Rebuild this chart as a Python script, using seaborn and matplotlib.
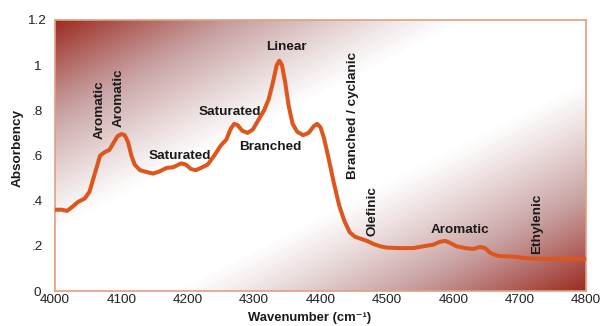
import numpy as np
import pandas as pd
import matplotlib
matplotlib.use("Agg")
import matplotlib.pyplot as plt
from matplotlib.colors import LinearSegmentedColormap
import seaborn as sns

wavenumber = [4000, 4010, 4018, 4025, 4035, 4045, 4052, 4060, 4068, 4075, 4082, 4088,
              4094, 4100, 4105, 4110, 4115, 4120, 4128, 4138, 4148, 4158, 4168, 4178,
              4190, 4197, 4205, 4212, 4220, 4230, 4240, 4250, 4258, 4265, 4270, 4275,
              4282, 4290, 4298, 4305, 4315, 4322, 4328, 4334, 4338, 4342, 4347, 4352,
              4358, 4365, 4374, 4382, 4390, 4395, 4400, 4405, 4412, 4420, 4428, 4436,
              4444, 4452, 4462, 4470, 4480, 4490, 4500, 4520, 4540, 4555, 4570, 4580,
              4588, 4596, 4605, 4618, 4630, 4640, 4648, 4656, 4668, 4690, 4712, 4740, 4800]
absorbency = [0.36, 0.36, 0.355, 0.37, 0.395, 0.41, 0.44, 0.52, 0.60, 0.615, 0.625, 0.655,
              0.685, 0.695, 0.69, 0.66, 0.60, 0.56, 0.535, 0.527, 0.52, 0.53, 0.545, 0.548,
              0.565, 0.56, 0.54, 0.535, 0.545, 0.56, 0.60, 0.645, 0.67, 0.72, 0.74, 0.735,
              0.71, 0.70, 0.715, 0.75, 0.80, 0.85, 0.92, 1.0, 1.02, 1.0, 0.92, 0.82,
              0.74, 0.705, 0.69, 0.70, 0.73, 0.74, 0.725, 0.68, 0.59, 0.48, 0.38, 0.31,
              0.26, 0.24, 0.23, 0.222, 0.208, 0.198, 0.192, 0.19, 0.19, 0.198, 0.205, 0.218,
              0.222, 0.212, 0.198, 0.19, 0.186, 0.195, 0.19, 0.168, 0.155, 0.152, 0.145, 0.142, 0.142]

x_ticks = [4000, 4100, 4200, 4300, 4400, 4500, 4600, 4700, 4800]
y_ticks = [0, 0.2, 0.4, 0.6, 0.8, 1.0, 1.2]
y_tick_labels = ["0", ".2", ".4", ".6", ".8", "1", "1.2"]

labels = ["Aromatic", "Aromatic", "Saturated", "Saturated", "Branched", "Linear",
          "Branched / cyclanic", "Olefinic", "Aromatic", "Ethylenic"]
label_rotation = [90, 90, 0, 0, 0, 0, 90, 90, 0, 90]
label_pos = [(4068, 0.804), (4096, 0.857), (4188, 0.596), (4264, 0.791), (4324, 0.636),
             (4348, 1.08), (4449, 0.778), (4478, 0.356), (4610, 0.271), (4726, 0.298)]

sns.set_style("white")
plt.rcParams['font.family'] = ['Liberation Sans', 'DejaVu Sans']

fig = plt.figure(figsize=(6.06, 3.26), dpi=100)
ax = fig.add_axes([55/606, 1-291/326, 531/606, 271/326])

# background gradient
u = np.linspace(0, 1, 400)
v = np.linspace(0, 1, 300)
U, V = np.meshgrid(u, v)
d = np.abs(V - U)
t = np.clip((d - 0.22) / 0.78, 0, 1) ** 1.15
cmap = LinearSegmentedColormap.from_list("bg", ["#ffffff", "#c9a3a3", "#9c2c22"])
ax.imshow(t, cmap=cmap, origin="lower", extent=[0, 1, 0, 1], transform=ax.transAxes,
          aspect="auto", zorder=0, vmin=0, vmax=1)

df = pd.DataFrame({"Wavenumber": wavenumber, "Absorbency": absorbency})
sns.lineplot(data=df, x="Wavenumber", y="Absorbency", ax=ax, color="#dc561e",
             linewidth=2.9, zorder=3)

ax.set_xlim(4000, 4800)
ax.set_ylim(0, 1.2)
ax.set_xticks(x_ticks)
ax.set_xticklabels([str(x) for x in x_ticks])
ax.set_yticks(y_ticks)
ax.set_yticklabels(y_tick_labels)
for lab in ax.get_yticklabels():
    lab.set_ha("center")
ax.tick_params(axis="y", length=0, pad=13, labelsize=9.7, colors="#222222")
ax.tick_params(axis="x", length=0, pad=2.5, labelsize=9.7, colors="#222222")
ax.set_xlabel("")
ax.set_ylabel("")
for s in ax.spines.values():
    s.set_color("#e0a080")
    s.set_linewidth(1.2)

for txt, rot, (x, y) in zip(labels, label_rotation, label_pos):
    ax.text(x, y, txt, rotation=rot, ha="center", va="center", fontsize=9.7,
            fontweight="bold", color="#1a1a1a", zorder=4)

fig.text(310/606, 1-318.5/326, "Wavenumber (cm\u207b\u00b9)", ha="center", va="center",
         fontsize=9.4, fontweight="bold", color="#1a1a1a")
fig.text(18/606, 1-148/326, "Absorbency", ha="center", va="center", rotation=90,
         fontsize=9.7, fontweight="bold", color="#1a1a1a")

fig.savefig("out.png", dpi=100)
